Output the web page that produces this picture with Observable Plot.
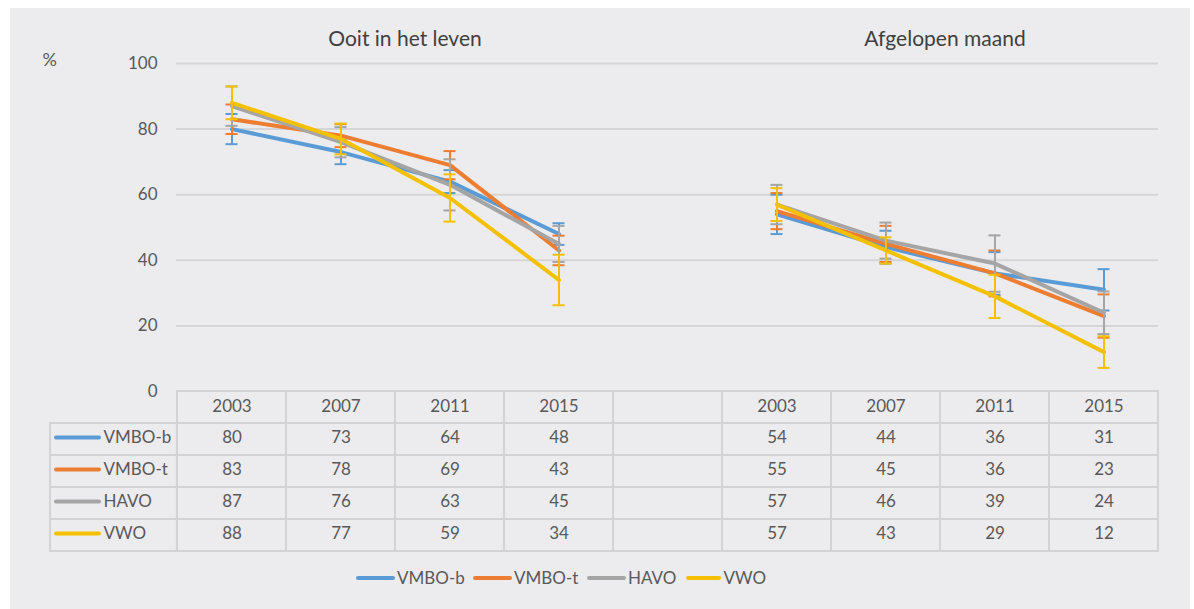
<!DOCTYPE html>
<html><head><meta charset="utf-8">
<script src="https://cdn.jsdelivr.net/npm/d3@7"></script>
<script src="https://cdn.jsdelivr.net/npm/@observablehq/plot@0.6"></script>
<style>
body{margin:0;background:#fff;font-family:Lato,sans-serif;}
#root{position:relative;width:1194px;height:609px;overflow:hidden;background:#fff;}
#bg{position:absolute;left:10px;top:8px;width:1180px;height:601px;background:#ececee;}
.abs{position:absolute;left:0;}
#legend{position:absolute;left:356px;top:567px;display:flex;align-items:center;font-size:17px;color:#595959;font-family:Lato,sans-serif;}
.item{display:flex;align-items:center;}
.sw{width:39px;height:4px;border-radius:2px;margin-right:2px;}
</style></head><body>
<div id="root"><div id="bg"></div><div id="chart" class="abs" style="top:0"></div><div id="table" class="abs" style="top:390px"></div><div id="legend"></div></div>
<script>
// categories
const years = ["2003","2007","2011","2015"];
const panels = ["Ooit in het leven","Afgelopen maand"];
const series = ["VMBO-b","VMBO-t","HAVO","VWO"];
const colors = ["#5b9bd5","#ed7d31","#a5a5a5","#f5c000"];
const yTicks = [0,20,40,60,80,100];

// values: "Ooit in het leven"
const ooitVmboB = [80,73,64,48];
const ooitVmboT = [83,78,69,43];
const ooitHavo  = [87,76,63,45];
const ooitVwo   = [88,77,59,34];
// values: "Afgelopen maand"
const maandVmboB = [54,44,36,31];
const maandVmboT = [55,45,36,23];
const maandHavo  = [57,46,39,24];
const maandVwo   = [57,43,29,12];
// error margins (+/-)
const errOoitVmboB = [4.6,3.7,3.5,3.3];
const errOoitVmboT = [4.5,3.5,4.3,4.5];
const errOoitHavo  = [6,4.6,7.8,5.5];
const errOoitVwo   = [5,4.7,7.2,7.7];
const errMaandVmboB = [6,5,6.5,6.3];
const errMaandVmboT = [5.5,5.5,7,6.6];
const errMaandHavo  = [6,5.5,8.6,6.5];
const errMaandVwo   = [5,4,6.6,4.8];

const ooitVals = [ooitVmboB, ooitVmboT, ooitHavo, ooitVwo];
const maandVals = [maandVmboB, maandVmboT, maandHavo, maandVwo];
const ooitErr = [errOoitVmboB, errOoitVmboT, errOoitHavo, errOoitVwo];
const maandErr = [errMaandVmboB, errMaandVmboT, errMaandHavo, errMaandVwo];

const slotKeys = [...years.map(y => "o" + y), "gap", ...years.map(y => "m" + y)];
const slotLabel = k => k === "gap" ? "" : k.slice(1);

const rows = [];
series.forEach((s, si) => {
  years.forEach((yr, yi) => {
    rows.push({series: s, si, panel: panels[0], key: "o" + yr, value: ooitVals[si][yi], err: ooitErr[si][yi]});
    rows.push({series: s, si, panel: panels[1], key: "m" + yr, value: maandVals[si][yi], err: maandErr[si][yi]});
  });
});

const grid = "#d5d5d7";
const seriesMarks = [];
series.forEach((s, si) => {
  const d = rows.filter(r => r.si === si);
  const c = colors[si];
  seriesMarks.push(
    Plot.ruleX(d, {x: "key", y1: r => r.value - r.err, y2: r => r.value + r.err, stroke: c, strokeWidth: 2}),
    Plot.tickY(d, {x: "key", y: r => r.value - r.err, stroke: c, strokeWidth: 2, insetLeft: 48.5, insetRight: 48.5}),
    Plot.tickY(d, {x: "key", y: r => r.value + r.err, stroke: c, strokeWidth: 2, insetLeft: 48.5, insetRight: 48.5}),
    Plot.line(d, {x: "key", y: "value", z: "panel", stroke: c, strokeWidth: 4, strokeLinecap: "round", strokeLinejoin: "round"})
  );
});

const chart = Plot.plot({
  width: 1194, height: 392,
  marginLeft: 176, marginRight: 36, marginTop: 63, marginBottom: 1,
  style: {background: "transparent", color: "#595959", fontFamily: "Lato, sans-serif", fontSize: "17px", overflow: "visible"},
  x: {type: "band", domain: slotKeys, padding: 0, axis: null},
  y: {domain: [0, 100], ticks: yTicks, tickSize: 0, tickPadding: 19, label: null},
  marks: [
    Plot.ruleY(yTicks.filter(t => t > 0), {stroke: grid, strokeWidth: 2}),
    ...seriesMarks,
    Plot.text([panels[0]], {x: () => "o2007", frameAnchor: "top", dx: 64, dy: -32, text: d => d, fontSize: 21, fill: "#404040"}),
    Plot.text([panels[1]], {x: () => "m2007", frameAnchor: "top", dx: 59, dy: -32, text: d => d, fontSize: 21, fill: "#404040"}),
    Plot.text(["%"], {frameAnchor: "top-left", dx: -134, dy: -10, text: d => d, fontSize: 18})
  ]
});
document.getElementById("chart").append(chart);

// table
const tableRows = ["hdr", ...series];
const cells = [];
tableRows.forEach(r => slotKeys.forEach(k => cells.push({row: r, key: k})));
const headerTexts = slotKeys.filter(k => k !== "gap").map(k => ({row: "hdr", key: k, text: slotLabel(k)}));
const valueTexts = rows.map(r => ({row: r.series, key: r.key, text: String(r.value)}));
const tableLine = "#d3d3d5";

const table = Plot.plot({
  width: 1194, height: 163,
  marginLeft: 49, marginRight: 36, marginTop: 1, marginBottom: 2,
  style: {background: "transparent", color: "#595959", fontFamily: "Lato, sans-serif", fontSize: "17px", overflow: "visible"},
  x: {type: "band", domain: slotKeys, range: [176, 1158], padding: 0, axis: null},
  y: {type: "band", domain: tableRows, padding: 0, axis: null},
  marks: [
    Plot.cell(cells, {x: "key", y: "row", fill: "none", stroke: tableLine, strokeWidth: 2}),
    Plot.cell(series, {x: () => slotKeys[0], y: d => d, insetLeft: -127, insetRight: (1158 - 176) / 9, fill: "none", stroke: tableLine, strokeWidth: 2}),
    Plot.text(headerTexts, {x: "key", y: "row", text: "text", dy: -1}),
    Plot.text(valueTexts, {x: "key", y: "row", text: "text", dy: -2}),
    Plot.tickY(series, {x: () => slotKeys[0], y: d => d, stroke: (d, i) => colors[i], strokeWidth: 4, strokeLinecap: "round", insetLeft: -121, insetRight: 187, dy: -2}),
    Plot.text(series, {x: () => slotKeys[0], y: d => d, text: d => d, textAnchor: "start", dx: -128.5, dy: -2})
  ],
  color: {type: "identity"}
});
document.getElementById("table").append(table);

// legend
const legend = document.getElementById("legend");
const itemWidths = [117, 114, 99, 80];
series.forEach((s, i) => {
  const it = document.createElement("div");
  it.className = "item";
  it.style.width = itemWidths[i] + "px";
  const sw = document.createElement("div");
  sw.className = "sw";
  sw.style.background = colors[i];
  const tx = document.createElement("span");
  tx.textContent = s;
  it.append(sw, tx);
  legend.append(it);
});
</script>
</body></html>
